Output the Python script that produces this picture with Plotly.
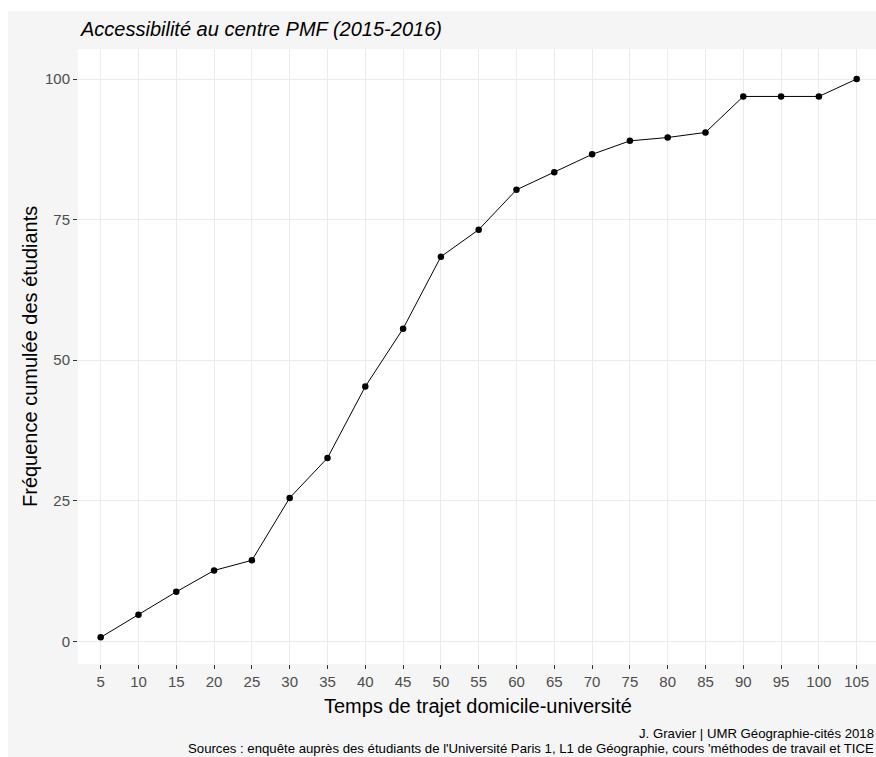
import plotly.graph_objects as go

# Data
temps = [5, 10, 15, 20, 25, 30, 35, 40, 45, 50, 55, 60, 65, 70, 75, 80, 85, 90, 95, 100, 105]
freq_cumulee = [0.7, 4.7, 8.8, 12.6, 14.4, 25.5, 32.6, 45.3, 55.6, 68.4, 73.2, 80.3, 83.4,
                86.6, 89.0, 89.6, 90.5, 96.9, 96.9, 96.9, 100.0]
y_ticks = [0, 25, 50, 75, 100]

title_txt = "Accessibilité au centre PMF (2015-2016)"
x_title = "Temps de trajet domicile-université"
y_title = "Fréquence cumulée des étudiants"
caption1 = "J. Gravier | UMR Géographie-cités 2018"
caption2 = "Sources : enquête auprès des étudiants de l'Université Paris 1, L1 de Géographie, cours 'méthodes de travail et TICE"

W, H = 876, 757
L, R, T, B = 78, 0, 49, 757 - 664
pw = W - L - R
ph = H - T - B

def px_x(p):  # pixel -> paper x
    return (p - L) / pw

def px_y(p):  # pixel -> paper y
    return (H - B - p) / ph

FONT = "Liberation Sans, Arial, sans-serif"

fig = go.Figure()
fig.add_trace(go.Scatter(
    x=temps, y=freq_cumulee, mode="lines+markers",
    line=dict(color="black", width=1),
    marker=dict(color="black", size=6.5),
    showlegend=False, hoverinfo="x+y",
))

fig.update_layout(
    width=W, height=H,
    margin=dict(l=L, r=R, t=T, b=B),
    paper_bgcolor="#F5F5F5",
    plot_bgcolor="white",
    font=dict(family=FONT, color="#4D4D4D"),
    shapes=[
        dict(type="rect", xref="paper", yref="paper",
             x0=px_x(-5), x1=px_x(W + 20), y0=px_y(11), y1=px_y(-5),
             fillcolor="white", line=dict(width=0), layer="below"),
        dict(type="rect", xref="paper", yref="paper",
             x0=px_x(-5), x1=px_x(8), y0=px_y(H + 5), y1=px_y(-5),
             fillcolor="white", line=dict(width=0), layer="below"),
    ],
    xaxis=dict(
        range=[2.0, 2.0 + pw / 7.56],
        tickmode="array", tickvals=temps, ticktext=[str(t) for t in temps],
        showgrid=True, gridcolor="#EBEBEB", gridwidth=1.4,
        zeroline=False, showline=False,
        ticks="outside", ticklen=4, tickwidth=1, tickcolor="#333333",
        tickfont=dict(size=15, color="#4D4D4D", family=FONT),
    ),
    yaxis=dict(
        range=[-4.04, 105.34],
        tickmode="array", tickvals=y_ticks, ticktext=[str(v) for v in y_ticks],
        showgrid=True, gridcolor="#EBEBEB", gridwidth=1.4,
        zeroline=False, showline=False,
        ticks="outside", ticklen=4, tickwidth=1, tickcolor="#333333",
        tickfont=dict(size=15, color="#4D4D4D", family=FONT),
    ),
    annotations=[
        dict(text="<i>" + title_txt + "</i>", xref="paper", yref="paper",
             x=px_x(78), y=px_y(29), xanchor="left", yanchor="middle", showarrow=False,
             font=dict(size=20, color="black", family=FONT)),
        dict(text=x_title, xref="paper", yref="paper",
             x=px_x(478), y=px_y(706), xanchor="center", yanchor="middle", showarrow=False,
             font=dict(size=20, color="black", family=FONT)),
        dict(text=y_title, xref="paper", yref="paper", textangle=-90,
             x=px_x(30), y=px_y(357), xanchor="center", yanchor="middle", showarrow=False,
             font=dict(size=20, color="black", family=FONT)),
        dict(text=caption1, xref="paper", yref="paper",
             x=px_x(876), y=px_y(733), xanchor="right", yanchor="middle", showarrow=False,
             font=dict(size=13.2, color="black", family=FONT)),
        dict(text=caption2, xref="paper", yref="paper",
             x=px_x(876), y=px_y(748), xanchor="right", yanchor="middle", showarrow=False,
             font=dict(size=13.2, color="black", family=FONT)),
    ],
)

fig.write_html(
    "out.html",
    config={"displayModeBar": False},
    post_script="document.body.style.margin='0';document.body.style.overflow='hidden';",
)
